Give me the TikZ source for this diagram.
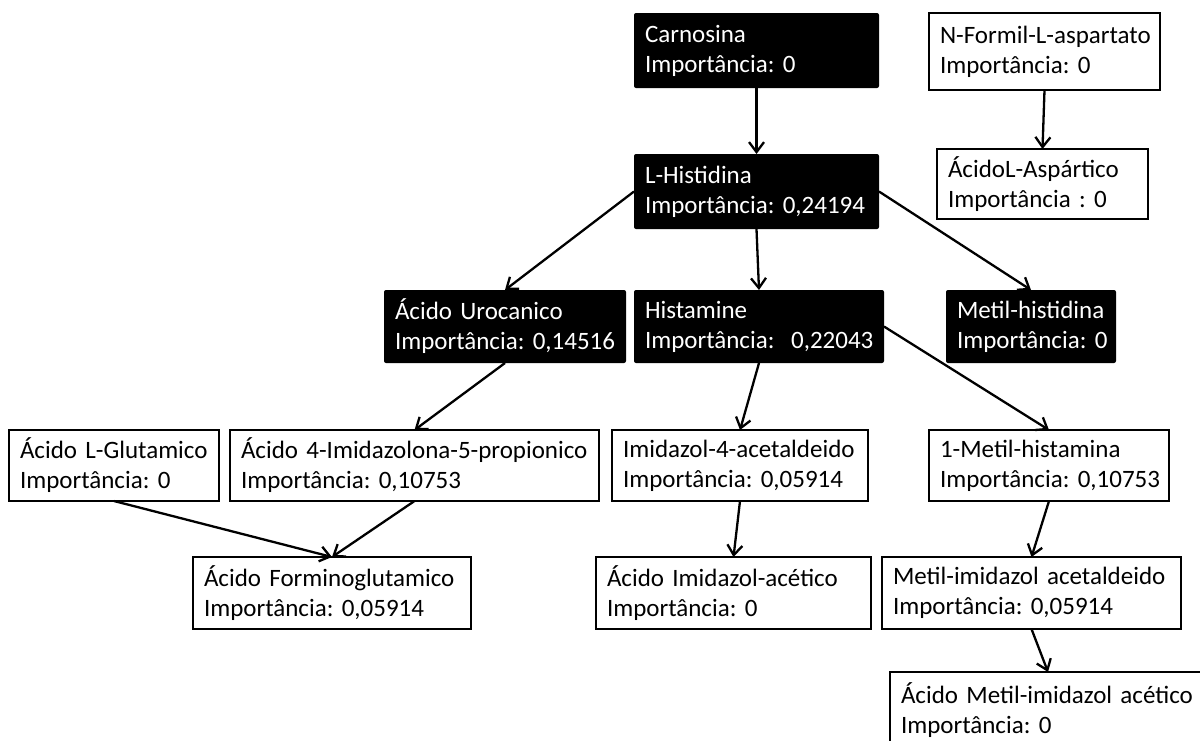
\documentclass[tikz,border=0pt]{standalone}
\usepackage{fontspec}
\setmainfont{Carlito}
\usetikzlibrary{arrows.meta}

% one box of the pathway: name, left, top, width, height, style, first line, second line
\newcommand{\pathbox}[8]{%
  \pgfmathsetmacro{\boxtw}{#4-22}%
  \node[#6, minimum width=#4pt, minimum height=#5pt, text width=\boxtw pt]
    (#1) at (#2,#3) {\mbox{#7}\\\mbox{#8}};%
}

\begin{document}
\begin{tikzpicture}[x=1pt, y=-1pt,
  boxbase/.style={anchor=north west, inner xsep=11pt, inner ysep=0pt, outer sep=0pt,
    align=left, font=\fontsize{25}{30}\selectfont\frenchspacing},
  lightbox/.style={boxbase, draw=black, line width=2.7pt, fill=white},
  darkbox/.style={boxbase, fill=black, text=white, rounded corners=2pt},
  link/.style={line width=2.3pt, -{Straight Barb[length=10pt,width=15pt,line width=2.3pt]}}]
\useasboundingbox (0,0) rectangle (1200,740);
\clip (0,0) rectangle (1200,740);

% top row
\pathbox{carn}{634}{13}{245}{75}{darkbox}{Carnosina}{Importância: 0}
\pathbox{nform}{929}{13}{231}{77}{lightbox}{N-Formil-L-aspartato}{Importância: 0}
% histidine and aspartic acid
\pathbox{lhis}{634}{154}{245}{75}{darkbox}{L-Histidina}{Importância: 0,24194}
\pathbox{asp}{937}{149}{211}{70}{lightbox}{ÁcidoL-Aspártico}{Importância : 0}
% first products of histidine
\pathbox{uro}{384}{290}{242}{73}{darkbox}{Ácido Urocanico}{Importância: 0,14516}
\pathbox{hist}{634}{290}{250}{73}{darkbox}{Histamine}{Importância:~ 0,22043}
\pathbox{mhd}{946}{290}{170}{73}{darkbox}{Metil-histidina}{Importância: 0}
% third row
\pathbox{glu}{9}{430}{210}{71}{lightbox}{Ácido L-Glutamico}{Importância: 0}
\pathbox{imo}{230}{430}{369}{71}{lightbox}{Ácido 4-Imidazolona-5-propionico}{Importância: 0,10753}
\pathbox{imid}{612}{430}{256}{71}{lightbox}{Imidazol-4-acetaldeido}{Importância: 0,05914}
\pathbox{mhm}{929}{430}{240}{71}{lightbox}{1-Metil-histamina}{Importância: 0,10753}
% fourth row
\pathbox{formg}{193}{557}{278}{72}{lightbox}{Ácido Forminoglutamico}{Importância: 0,05914}
\pathbox{imac}{596}{557}{275}{72}{lightbox}{Ácido Imidazol-acético}{Importância: 0}
\pathbox{mia}{882}{557}{299}{72}{lightbox}{Metil-imidazol acetaldeido}{Importância: 0,05914}
% last product, running off the page
\pathbox{mac}{890}{672}{316}{76}{lightbox}{Ácido Metil-imidazol acético}{Importância: 0}

% reactions
\draw[link] (carn.south) -- (lhis.north);
\draw[link] (nform.south) -- (asp.north);
\draw[link] (lhis.west) -- (uro.north);
\draw[link] (lhis.south) -- (hist.north);
\draw[link] (lhis.east) -- (mhd.north);
\draw[link] (uro.south) -- (imo.north);
\draw[link] (hist.south) -- (imid.north);
\draw[link] (hist.east) -- (mhm.north);
\draw[link] (glu.south) -- (formg.north);
\draw[link] (imo.south) -- (formg.north);
\draw[link] (imid.south) -- (imac.north);
\draw[link] (mhm.south) -- (mia.north);
\draw[link] (mia.south) -- (mac.north);
\end{tikzpicture}
\end{document}
